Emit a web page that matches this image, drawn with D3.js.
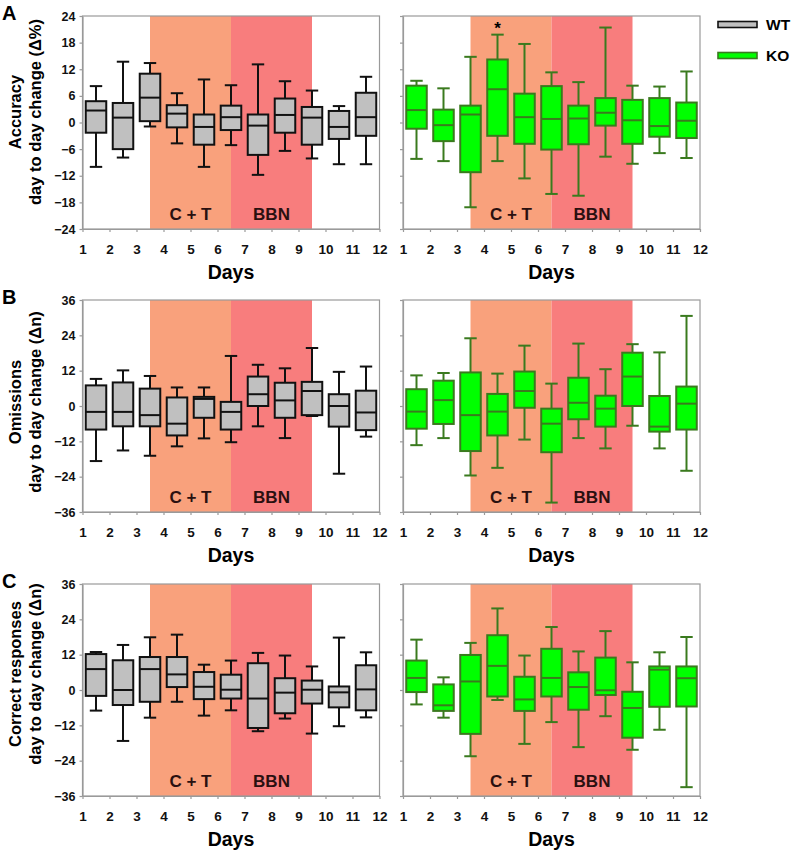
<!DOCTYPE html>
<html>
<head>
<meta charset="utf-8">
<script src="https://cdn.jsdelivr.net/npm/d3@7"></script>
<style>
  body { margin: 0; background: #fff; }
  text { font-family: Arial, "Liberation Sans", sans-serif; font-weight: bold; }
</style>
</head>
<body>
<svg id="fig" width="793" height="853"></svg>
<script>

const days = [1, 2, 3, 4, 5, 6, 7, 8, 9, 10, 11, 12];
const boxDays = [1, 2, 3, 4, 5, 6, 7, 8, 9, 10, 11]; // box i sits between day i and i+1
const periodLabels = ["C + T", "BBN"];
const periodStart = [3.5, 6.5];
const periodEnd = [6.5, 9.5];
const accuracyTicks = [-24, -18, -12, -6, 0, 6, 12, 18, 24];
const countTicks = [-36, -24, -12, 0, 12, 24, 36];
const groups = ["WT", "KO"];

// each box: [low whisker, q1, median, q3, high whisker]
const accuracyWT = [
  [-10, -2.3, 2.7, 4.8, 8.2], [-7.9, -6, 1.1, 4.4, 13.7], [-0.9, 0.3, 5.6, 11, 13.4],
  [-4.7, -1.1, 2, 3.9, 6.6], [-10, -5, -1, 1.8, 9.7], [-5.1, -1.7, 1.2, 3.8, 8.4],
  [-11.8, -7.3, -0.7, 1.8, 13.1], [-6.4, -2.3, 1.7, 5.4, 9.3], [-8.1, -5, 1.1, 3.5, 7.2],
  [-9.4, -3.7, -1, 2.6, 3.7], [-9.4, -3, 1.2, 6.7, 10.3]
];
const accuracyKO = [
  [-8.2, -1.4, 2.8, 8.3, 9.4], [-8.7, -4.2, -0.6, 2.9, 7.7], [-19.1, -11.2, 1.8, 3.8, 14.8],
  [-8.7, -3, 7.5, 14.2, 19.8], [-12.6, -4.8, 1.2, 6.5, 17.7], [-16.1, -6.1, 0.8, 8.2, 11.3],
  [-16.5, -4.9, 0.9, 3.8, 9.1], [-7.7, -0.7, 2.2, 5.5, 21.4], [-9.3, -4.8, 0.5, 5.1, 8.3],
  [-6.9, -3.2, -0.8, 5.5, 8.1], [-8, -3.5, 0.4, 4.5, 11.5]
];
const accuracyKOStars = [4];

const omissionsWT = [
  [-18.7, -8, -2, 7, 9.2], [-15.1, -6.9, -2, 8, 12.1], [-16.9, -6.9, -3.1, 5.9, 10.2],
  [-13.7, -10, -6, 2.9, 6.3], [-11, -4, 2.4, 3.1, 6.3], [-12.3, -8, -2, 1.4, 17],
  [-6.9, 0, 4, 10, 14], [-10.9, -4, 1.9, 7.9, 12.8], [-3.4, -3.1, 5.1, 8.2, 19.7],
  [-23, -7, 0, 4, 11.6], [-10.4, -8.2, -2.2, 5.2, 13.4]
];
const omissionsKO = [
  [-13.3, -7.7, -1.9, 5.7, 10.4], [-10.9, -6.1, 2, 8.6, 11.2], [-23.6, -15.3, -3.1, 11.4, 23],
  [-21, -10, -1.9, 4.1, 11], [-11.4, -0.6, 5.1, 11.7, 20.5], [-32.8, -15.7, -6, -0.9, 7.6],
  [-10.9, -4.5, 1.1, 9.6, 21.2], [-14.4, -7, -0.9, 3.5, 12.5], [-6.7, 0, 10, 18.1, 21],
  [-14.4, -8.7, -7, 3.4, 18.2], [-22, -8, 0.8, 6.6, 30.6]
];

const correctWT = [
  [-7, -2, 7.1, 12.2, 12.9], [-17.3, -5.1, 0, 10.1, 15.3], [-9.4, -4, 7.1, 11.2, 17.9],
  [-4, 1, 5.3, 11.2, 18.8], [-8.7, -3.1, 1.1, 6.1, 8.6], [-6.9, -2.9, 0.1, 5.2, 10],
  [-14, -12.9, -2.9, 9.1, 12.6], [-9.7, -7.9, -0.9, 4, 11.7], [-14.8, -4.6, 0.1, 3.2, 8],
  [-12.3, -5.9, -0.8, 1.2, 17.8], [-9.3, -6.9, 0.2, 8.4, 12.8]
];
const correctKO = [
  [-4.9, -0.7, 4.1, 10, 17.1], [-9.4, -7.1, -5.2, 1.9, 4.3], [-22.5, -14.9, 2.9, 11.9, 16],
  [-3.4, -2.2, 8.2, 18.6, 27.7], [-18.3, -7.1, -3.2, 4.5, 11.7], [-10.9, -2.2, 4.1, 14, 21.4],
  [-19.4, -6.7, 1, 6, 13.1], [-8.9, -1.7, -0.1, 11, 20], [-20.3, -16.2, -6.1, -0.6, 9.4],
  [-13.5, -5.7, 6.9, 8, 12.8], [-33, -5.6, 4, 8, 18]
];

const rows = [
  { letter: "A", title: ["Accuracy", "day to day change (\u0394%)"], ticks: accuracyTicks,
    data: [accuracyWT, accuracyKO], stars: [[], accuracyKOStars], top: 16, bottom: 229, titleY: 112 },
  { letter: "B", title: ["Omissions", "day to day change (\u0394n)"], ticks: countTicks,
    data: [omissionsWT, omissionsKO], stars: [[], []], top: 300, bottom: 512, titleY: 402 },
  { letter: "C", title: ["Correct responses", "day to day change (\u0394n)"], ticks: countTicks,
    data: [correctWT, correctKO], stars: [[], []], top: 584, bottom: 796, titleY: 674 }
];

const colLeft = [82.5, 403];
const colWidth = 297;
const periodColors = ["#f9a17c", "#f87d7d"];
const boxFill = { WT: "#c0c0c0", KO: "#00ff00" };
const boxStroke = { WT: "#111", KO: "#3a7a1e" };
const frameColor = "#9a9a9a";

const svg = d3.select("#fig");

rows.forEach(row => {
  // panel letter
  svg.append("text").attr("x", 2).attr("y", row.top + 4)
    .style("font-size", "20px").text(row.letter);

  // y title, two lines
  const t = svg.append("g").attr("transform", `translate(0,${row.titleY}) rotate(-90)`);
  row.title.forEach((line, i) => {
    t.append("text").attr("x", 0).attr("y", 21 + i * 20)
      .attr("text-anchor", "middle").style("font-size", "16.5px").text(line);
  });

  groups.forEach((grp, gi) => {
    const x = d3.scaleLinear().domain([1, 12]).range([colLeft[gi], colLeft[gi] + colWidth]);
    const y = d3.scaleLinear().domain([d3.min(row.ticks), d3.max(row.ticks)]).range([row.bottom, row.top]);
    const step = x(2) - x(1);
    const g = svg.append("g");

    // treatment periods
    periodLabels.forEach((lab, i) => {
      g.append("rect")
        .attr("x", x(periodStart[i])).attr("y", row.top)
        .attr("width", x(periodEnd[i]) - x(periodStart[i]))
        .attr("height", row.bottom - row.top)
        .attr("fill", periodColors[i]);
      g.append("text")
        .attr("x", x((periodStart[i] + periodEnd[i]) / 2)).attr("y", row.bottom - 9)
        .attr("text-anchor", "middle").attr("fill", "#2a1010")
        .style("font-size", "17px").text(lab);
    });

    // frame
    g.append("rect").attr("x", x(1)).attr("y", row.top)
      .attr("width", colWidth).attr("height", row.bottom - row.top)
      .attr("fill", "none").attr("stroke", frameColor).attr("stroke-width", 1.2);

    // axes
    const ya = g.append("g").attr("transform", `translate(${x(1)},0)`)
      .call(d3.axisLeft(y).tickValues(row.ticks).tickSize(3).tickSizeOuter(0).tickPadding(4)
        .tickFormat(gi === 0 ? d3.format("d") : ""));
    const xa = g.append("g").attr("transform", `translate(0,${row.bottom})`)
      .call(d3.axisBottom(x).tickValues(days).tickSize(3).tickSizeOuter(0).tickPadding(12));
    [ya, xa].forEach(a => {
      a.selectAll("path, line").attr("stroke", frameColor).attr("stroke-width", 1.2);
      a.selectAll("text").attr("fill", "#111").style("font-family", null).style("font-size", "12.5px");
    });
    xa.selectAll("text").style("font-size", "13.5px");

    g.append("text").attr("x", x(6.5)).attr("y", row.bottom + 50)
      .attr("text-anchor", "middle").style("font-size", "19.5px").text("Days");

    // boxes
    const bw = step * 0.76, cw = step * 0.46;
    const boxes = g.selectAll("g.box").data(row.data[gi]).enter().append("g")
      .attr("class", "box")
      .attr("stroke", boxStroke[grp]).attr("stroke-width", 2);
    boxes.append("line")
      .attr("x1", (d, i) => x(boxDays[i] + 0.5)).attr("x2", (d, i) => x(boxDays[i] + 0.5))
      .attr("y1", d => y(d[0])).attr("y2", d => y(d[4]));
    [0, 4].forEach(k => {
      boxes.append("line")
        .attr("x1", (d, i) => x(boxDays[i] + 0.5) - cw / 2).attr("x2", (d, i) => x(boxDays[i] + 0.5) + cw / 2)
        .attr("y1", d => y(d[k])).attr("y2", d => y(d[k]));
    });
    boxes.append("rect")
      .attr("x", (d, i) => x(boxDays[i] + 0.5) - bw / 2).attr("width", bw)
      .attr("y", d => y(d[3])).attr("height", d => y(d[1]) - y(d[3]))
      .attr("fill", boxFill[grp]);
    boxes.append("line")
      .attr("x1", (d, i) => x(boxDays[i] + 0.5) - bw / 2).attr("x2", (d, i) => x(boxDays[i] + 0.5) + bw / 2)
      .attr("y1", d => y(d[2])).attr("y2", d => y(d[2]));

    row.stars[gi].forEach(day => {
      const d = row.data[gi][boxDays.indexOf(day)];
      g.append("text").attr("x", x(day + 0.5)).attr("y", y(d[4]) - 1)
        .attr("text-anchor", "middle").style("font-size", "17px").text("*");
    });
  });
});

// legend
const legend = svg.append("g");
groups.forEach((grp, i) => {
  legend.append("rect").attr("x", 718).attr("y", 21.5 + i * 31).attr("width", 39).attr("height", 6)
    .attr("fill", boxFill[grp]).attr("stroke", boxStroke[grp]).attr("stroke-width", 1.6);
  legend.append("text").attr("x", 766).attr("y", 30 + i * 31)
    .style("font-size", "15.5px").text(grp);
});
</script>
</body>
</html>
